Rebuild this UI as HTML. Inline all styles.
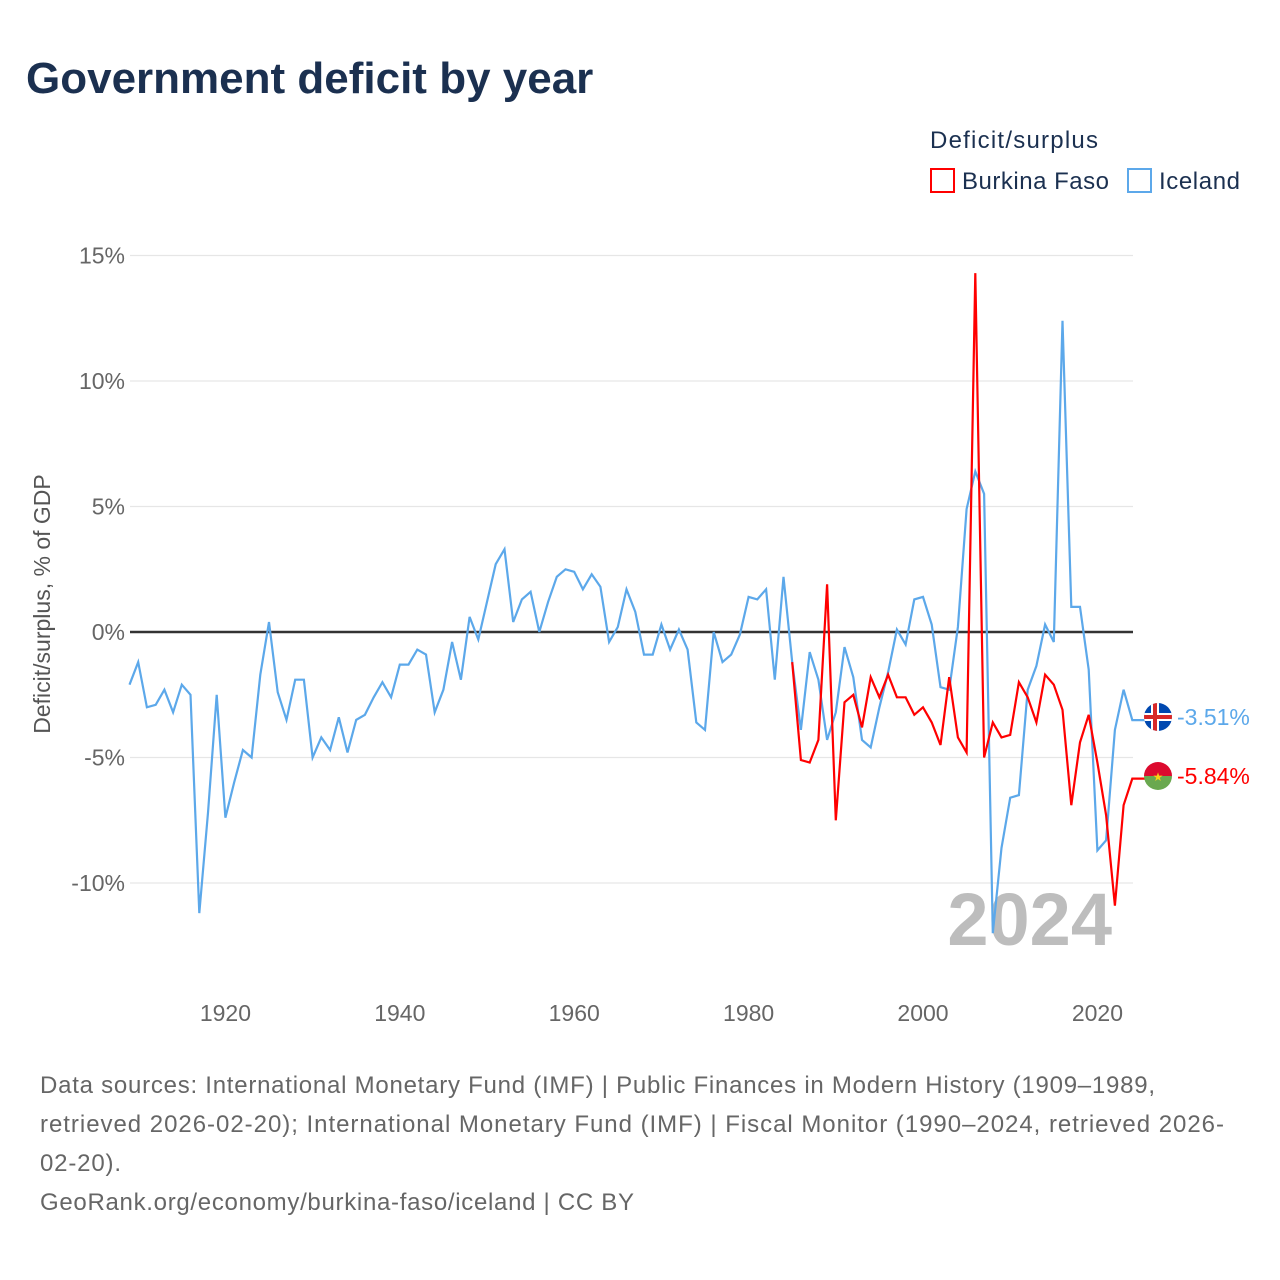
<!DOCTYPE html>
<html><head><meta charset="utf-8"><style>
body{margin:0;background:#fff;font-family:"Liberation Sans",sans-serif}
#wrap{position:relative;width:1280px;height:1280px;overflow:hidden}
</style></head><body>
<div id="wrap">
<svg id="chart" width="1280" height="1280" viewBox="0 0 1280 1280">
<text x="26" y="93" font-size="44" font-weight="bold" fill="#1b3050">Government deficit by year</text>
<text x="930" y="148" font-size="24" fill="#1b3050" textLength="168">Deficit/surplus</text>
<g><rect x="931" y="169" width="23" height="23" fill="none" stroke="#ff0000" stroke-width="2"/><text x="962" y="189" font-size="24" fill="#1b3050" textLength="147">Burkina Faso</text></g>
<g><rect x="1128" y="169" width="23" height="23" fill="none" stroke="#5ca8ea" stroke-width="2"/><text x="1159" y="189" font-size="24" fill="#1b3050" textLength="81">Iceland</text></g>
<g id="grid"></g>
<text transform="translate(50,604) rotate(-90)" text-anchor="middle" font-size="23" fill="#555">Deficit/surplus, % of GDP</text>
<text x="1112" y="945" text-anchor="end" font-size="74" font-weight="bold" fill="#bdbdbd">2024</text>
<g id="series"></g>
<g>
<clipPath id="c1"><circle cx="1158" cy="717" r="14"/></clipPath>
<g clip-path="url(#c1)"><rect x="1144" y="703" width="28" height="28" fill="#0048b0"/><rect x="1144" y="713" width="28" height="8" fill="#fff"/><rect x="1151" y="703" width="8" height="28" fill="#fff"/><rect x="1144" y="715" width="28" height="4" fill="#d72828"/><rect x="1153" y="703" width="4" height="28" fill="#d72828"/></g></g>
<g>
<clipPath id="c2"><circle cx="1158" cy="776" r="14"/></clipPath>
<g clip-path="url(#c2)"><rect x="1144" y="762" width="28" height="14" fill="#dc0a2e"/><rect x="1144" y="776" width="28" height="14" fill="#6aa84f"/><text x="1158" y="781" text-anchor="middle" font-size="12" fill="#f7d117">★</text></g></g>
<text x="1177" y="725" font-size="23" fill="#5ca8ea">-3.51%</text>
<text x="1177" y="784" font-size="23" fill="#ff0000">-5.84%</text>
<text font-size="24" fill="#666">
<tspan x="40" y="1093" textLength="1115">Data sources: International Monetary Fund (IMF) | Public Finances in Modern History (1909–1989,</tspan>
<tspan x="40" y="1132" textLength="1184">retrieved 2026-02-20); International Monetary Fund (IMF) | Fiscal Monitor (1990–2024, retrieved 2026-</tspan>
<tspan x="40" y="1171" textLength="81">02-20).</tspan>
<tspan x="40" y="1210" textLength="594">GeoRank.org/economy/burkina-faso/iceland | CC BY</tspan>
</text>
</svg>
</div>
<script>
const icelandStartYear = 1909;
const icelandValues = [-2.1,-1.2,-3.0,-2.9,-2.3,-3.2,-2.1,-2.5,-11.2,-7.2,-2.5,-7.4,-6.0,-4.7,-5.0,-1.7,0.4,-2.4,-3.5,-1.9,-1.9,-5.0,-4.2,-4.7,-3.4,-4.8,-3.5,-3.3,-2.6,-2.0,-2.6,-1.3,-1.3,-0.7,-0.9,-3.2,-2.3,-0.4,-1.9,0.6,-0.3,1.2,2.7,3.3,0.4,1.3,1.6,0.0,1.2,2.2,2.5,2.4,1.7,2.3,1.8,-0.4,0.2,1.7,0.8,-0.9,-0.9,0.3,-0.7,0.1,-0.7,-3.6,-3.9,0.0,-1.2,-0.9,-0.1,1.4,1.3,1.7,-1.9,2.2,-1.2,-3.9,-0.8,-1.9,-4.3,-3.2,-0.6,-1.8,-4.3,-4.6,-3.0,-1.6,0.1,-0.5,1.3,1.4,0.3,-2.2,-2.3,0.2,4.9,6.4,5.5,-12.0,-8.6,-6.6,-6.5,-2.3,-1.35,0.3,-0.4,12.4,1.0,1.0,-1.5,-8.7,-8.3,-3.9,-2.3,-3.51];
const burkinaStartYear = 1985;
const burkinaValues = [-1.2,-5.1,-5.2,-4.3,1.9,-7.5,-2.8,-2.5,-3.8,-1.8,-2.6,-1.7,-2.6,-2.6,-3.3,-3.0,-3.6,-4.5,-1.8,-4.2,-4.8,14.3,-5.0,-3.6,-4.2,-4.1,-2.0,-2.6,-3.6,-1.7,-2.1,-3.1,-6.9,-4.4,-3.3,-5.2,-7.3,-10.9,-6.9,-5.84];
const yTicks = [15,10,5,0,-5,-10];
const xTicks = [1920,1940,1960,1980,2000,2020];

const NS = "http://www.w3.org/2000/svg";
const X0 = 129.5, XS = 8.72, Y0 = 632, YS = 25.1;
function xs(yr){return X0 + (yr-1909)*XS;}
function ys(v){return Y0 - v*YS;}
const grid = document.getElementById('grid');
yTicks.forEach(t=>{
  const l=document.createElementNS(NS,'line');
  l.setAttribute('x1',130);l.setAttribute('x2',1133);
  l.setAttribute('y1',ys(t));l.setAttribute('y2',ys(t));
  l.setAttribute('stroke',t===0?'#333':'#e6e6e6');l.setAttribute('stroke-width',t===0?2.5:1.2);
  
  
  grid.appendChild(l);
  const tx=document.createElementNS(NS,'text');
  tx.setAttribute('x',125);tx.setAttribute('y',ys(t)+8);tx.setAttribute('text-anchor','end');
  tx.setAttribute('font-size','23');tx.setAttribute('fill','#666');
  tx.textContent=t+'%';
  
  
  grid.appendChild(tx);
});
xTicks.forEach(t=>{
  const tx=document.createElementNS(NS,'text');
  tx.setAttribute('x',xs(t));tx.setAttribute('y',1021);tx.setAttribute('text-anchor','middle');
  tx.setAttribute('font-size','23');tx.setAttribute('fill','#666');
  tx.textContent=t;
  
  
  grid.appendChild(tx);
});
const series=document.getElementById('series');
function draw(start, vals, color, name, endX){
  let pts=vals.map((v,i)=>xs(start+i).toFixed(1)+','+ys(v).toFixed(1));
  pts.push(endX+','+ys(vals[vals.length-1]).toFixed(1));
  const p=document.createElementNS(NS,'polyline');
  p.setAttribute('points',pts.join(' '));
  p.setAttribute('fill','none');p.setAttribute('stroke',color);p.setAttribute('stroke-width',2.2);
  p.setAttribute('stroke-linejoin','miter');
  
  
  series.appendChild(p);
}
draw(icelandStartYear, icelandValues, '#5ca8ea', 'iceland-line', 1145);
draw(burkinaStartYear, burkinaValues, '#ff0000', 'burkina-faso-line', 1145);
</script>
</body></html>
